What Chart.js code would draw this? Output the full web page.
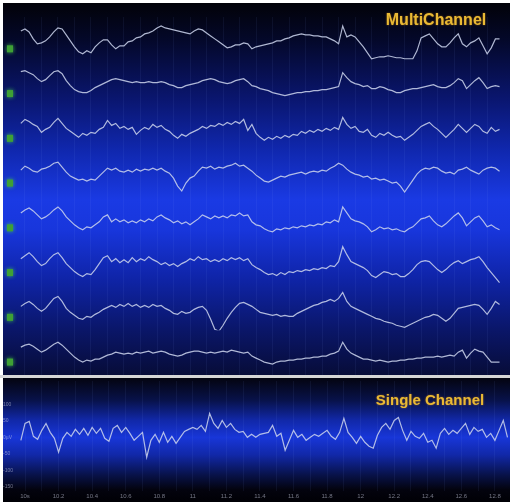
<!DOCTYPE html>
<html>
<head>
<meta charset="utf-8">
<script src="https://cdn.jsdelivr.net/npm/chart.js@4.4.1/dist/chart.umd.min.js"></script>
<style>
  html, body { margin: 0; padding: 0; background: #fff; }
  body { width: 510px; height: 502px; position: relative; overflow: hidden; }
  #multiBox { position: absolute; left: 3px; top: 3px; width: 507px; height: 372px; }
  #rule { position: absolute; left: 0; top: 375px; width: 510px; height: 3px; background: #d6d6d6; }
  #singleBox { position: absolute; left: 3px; top: 378px; width: 507px; height: 124px; }
</style>
</head>
<body>
<div id="multiBox"><canvas id="multi" width="507" height="372"></canvas></div>
<div id="rule"></div>
<div id="singleBox"><canvas id="single" width="507" height="124"></canvas></div>
<script>
// sampling of every trace, in seconds
var sampleStart = 9.975;
var sampleStep = 0.025;

// time axis: a grid line every 0.1 s, a label every 0.2 s
var gridTimes = [10.0,10.1,10.2,10.3,10.4,10.5,10.6,10.7,10.8,10.9,11.0,11.1,11.2,11.3,11.4,
                 11.5,11.6,11.7,11.8,11.9,12.0,12.1,12.2,12.3,12.4,12.5,12.6,12.7,12.8];
var timeLabels = ['10s','10.2','10.4','10.6','10.8','11','11.2','11.4','11.6','11.8','12','12.2','12.4','12.6','12.8'];

// single channel amplitude ticks (µV)
var ampTicks = [100, 50, 0, -50, -100, -150];
var ampLabels = ['100', '50', '0µV', '-50', '-100', '-150'];

// multichannel traces (µV)
var ch1 = [34,42,30,2,-18,-14,-6,10,30,46,42,18,-6,-30,-50,-58,-46,-54,-30,-14,-2,-2,-22,-38,-26,-26,-10,-6,6,10,
  22,26,34,46,54,46,42,38,34,30,26,22,34,42,38,26,14,2,-10,-22,-34,-30,-22,-22,-14,-18,-38,-30,-26,-22,
  -18,-14,-6,-6,2,6,14,18,22,18,18,14,14,10,10,2,-6,-18,54,10,18,10,-10,-30,-54,-78,-74,-70,-70,-66,
  -70,-74,-74,-78,-78,-78,-46,6,14,22,2,-18,-30,-30,-14,6,22,-18,-30,-14,-6,6,-26,-58,-34,2,2];
var ch2 = [50,54,46,38,22,10,18,34,50,54,42,14,-6,-22,-30,-34,-34,-26,-14,-6,2,10,18,22,18,14,10,6,10,6,
  6,10,6,6,10,6,-2,-6,-14,-14,-6,-2,2,6,14,18,22,18,10,6,2,6,14,18,22,10,-6,-10,-18,-22,
  -26,-34,-38,-42,-46,-42,-38,-34,-34,-30,-30,-26,-26,-22,-22,-18,-14,-10,46,26,10,2,-2,-10,-6,-18,-18,-10,-14,-22,
  -26,-34,-34,-26,-22,-18,-18,-14,-10,-6,-2,-10,-14,-14,-6,6,22,14,-18,-2,14,26,6,-18,-10,-6,-10];
var ch3 = [22,38,30,18,10,-14,-2,6,26,42,22,2,-10,-22,-34,-18,-26,-14,-18,-2,6,34,14,22,2,10,-2,6,-22,-6,
  6,-2,18,6,14,-2,-10,-26,-38,-22,-30,-18,-10,-2,10,2,14,10,22,14,26,18,30,22,38,-6,18,-18,-34,-46,
  -34,-42,-30,-38,-26,-34,-22,-26,-10,-18,-6,-14,-2,-10,2,-6,6,-2,46,18,2,10,-10,-14,-2,-26,-34,-18,-26,-14,
  -26,-34,-30,-46,-34,-22,-6,10,18,26,10,-2,-18,-34,-18,-2,18,2,-14,2,18,10,-10,-18,6,-10,-2];
var ch4 = [14,30,22,10,6,18,22,30,42,46,26,6,-10,-18,-26,-22,-30,-22,-26,-10,6,22,14,22,10,6,14,6,18,10,
  18,14,22,14,22,10,2,-18,-50,-70,-38,-18,-10,10,26,22,30,18,26,22,30,34,42,30,34,22,10,-6,-18,-30,
  -34,-26,-18,-10,-14,-6,-2,2,6,-2,6,10,6,14,10,22,30,42,34,18,6,-2,-6,-14,-10,-22,-18,-26,-22,-30,
  -38,-34,-50,-74,-50,-26,-2,14,22,18,26,22,10,2,6,-2,14,18,26,14,6,-2,14,22,26,22,10];
var ch5 = [22,34,42,30,14,-2,6,18,34,46,30,6,-10,-26,-38,-46,-34,-38,-26,-14,6,14,-14,-2,-14,-6,-18,-10,-18,-6,
  -14,-2,-10,6,14,2,-6,-18,-10,-22,-14,-26,-14,-2,14,6,-2,10,2,10,2,14,10,22,10,14,-14,-26,-30,-42,
  -50,-54,-42,-46,-38,-42,-34,-38,-30,-34,-26,-30,-22,-26,-14,-18,-6,-14,46,22,-2,-10,-14,-22,-34,-54,-46,-34,-42,-38,
  -46,-42,-50,-54,-42,-34,-18,-2,2,10,-10,-26,-34,-22,-6,10,22,2,-30,-14,2,10,-10,-34,-26,-38,-46];
var ch6 = [18,30,42,26,6,-10,-2,18,34,42,22,-2,-18,-34,-46,-54,-42,-46,-26,-2,22,30,6,18,2,14,2,22,6,18,
  10,26,14,6,-6,2,-10,-2,-14,-2,6,18,10,26,14,18,6,14,6,18,10,22,14,22,10,18,-6,-18,-26,-38,
  -46,-42,-50,-38,-46,-34,-38,-30,-34,-26,-30,-22,-26,-18,-22,-10,-14,6,66,34,6,-2,-10,-18,-30,-50,-58,-46,-34,-38,
  -46,-42,-54,-54,-42,-26,-6,6,10,6,-10,-26,-38,-26,-10,2,10,-2,6,14,18,26,6,-18,-38,-58,-78];
var ch7 = [6,18,26,14,-2,-14,-2,18,38,46,26,-2,-18,-30,-42,-46,-34,-38,-26,-18,-6,2,10,2,14,6,18,6,14,2,
  10,2,14,6,10,-2,-10,-22,-26,-14,-22,-18,-6,2,6,-10,-46,-86,-94,-70,-42,-18,2,18,22,14,6,-6,-18,-22,
  -26,-30,-26,-34,-30,-34,-34,-22,-14,-6,2,10,14,22,26,34,26,38,62,26,6,-2,-10,-18,-26,-34,-42,-46,-54,-58,
  -62,-70,-74,-78,-70,-62,-54,-46,-38,-34,-26,-30,-42,-54,-42,-22,-2,2,6,10,14,10,-6,-26,-2,26,14];
var ch8 = [22,30,34,26,14,2,10,22,34,42,30,14,-2,-18,-30,-38,-30,-34,-26,-26,-18,-10,-6,2,-2,-6,-2,-6,2,-2,
  2,6,-2,2,6,2,-6,-10,-14,-10,-2,2,6,6,2,-2,2,-2,2,6,2,10,6,2,-2,2,-14,-22,-30,-38,
  -42,-46,-38,-34,-34,-30,-30,-26,-26,-22,-22,-18,-18,-14,-14,-6,-2,6,42,14,-2,-10,-18,-26,-26,-30,-34,-30,-34,-38,
  -34,-34,-30,-30,-26,-26,-22,-22,-18,-18,-18,-14,-18,-14,-10,-14,2,10,-22,-2,14,6,2,-18,-38,-38,-38];

// single channel trace (µV)
var single = [-9,42,48,3,-6,21,42,15,-3,-45,-3,15,3,24,9,27,6,30,12,27,-3,-12,27,36,15,30,12,-9,3,15,
  -60,-9,9,-15,15,-15,3,-18,0,18,24,30,24,36,18,72,42,27,51,30,42,24,15,18,0,9,0,9,12,15,
  36,3,12,-39,-9,21,0,9,-9,0,9,3,12,21,3,-6,15,57,15,0,-18,3,-15,-27,-33,6,30,42,24,51,
  60,21,-9,18,3,-3,12,-15,-9,-33,12,27,9,21,12,27,42,9,30,18,24,0,12,-9,21,51,0];

var channels = [ch1, ch2, ch3, ch4, ch5, ch6, ch7, ch8];

var traceColor = 'rgba(204,212,236,0.86)';
var gridColor = 'rgba(140,170,255,0.07)';
var titleColor = '#e9b935';

function toPoints(values) {
  return values.map(function (v, i) {
    return { x: sampleStart + i * sampleStep, y: v };
  });
}

function gridTicks(scale) {
  scale.ticks = gridTimes.map(function (t) { return { value: t }; });
}

function paintBackground(chart, stops) {
  var ctx = chart.ctx;
  var g = ctx.createLinearGradient(0, 0, 0, chart.height);
  stops.forEach(function (s) { g.addColorStop(s[0], s[1]); });
  ctx.save();
  ctx.fillStyle = g;
  ctx.fillRect(0, 0, chart.width, chart.height);
  ctx.restore();
}

function paintTitle(chart, text, x, y, size) {
  var ctx = chart.ctx;
  ctx.save();
  ctx.font = 'bold ' + size + 'px "Liberation Sans", Arial, sans-serif';
  ctx.fillStyle = titleColor;
  ctx.textAlign = 'center';
  ctx.textBaseline = 'middle';
  ctx.shadowColor = 'rgba(255,160,0,0.5)';
  ctx.shadowBlur = 2;
  ctx.fillText(text, x, y);
  ctx.restore();
}

// ---------- multichannel ----------
var multiScales = {
  x: {
    type: 'linear', min: 9.97, max: 12.89,
    afterBuildTicks: gridTicks,
    ticks: { display: false },
    grid: { color: gridColor, drawTicks: false },
    border: { display: false }
  }
};
channels.forEach(function (c, i) {
  multiScales['y' + i] = {
    type: 'linear', position: 'right', stack: 'eeg', stackWeight: 1,
    min: -90, max: 90,
    ticks: { display: false },
    grid: { display: false },
    border: { display: false }
  };
});

var multiDecor = {
  id: 'multiDecor',
  beforeDraw: function (chart) {
    paintBackground(chart, [
      [0, '#020208'], [0.10, '#04082a'], [0.26, '#0a1670'], [0.40, '#1028b0'],
      [0.53, '#1a3ae4'], [0.61, '#1836dc'], [0.74, '#0f24a8'], [0.88, '#0a1668'], [1, '#070c38']
    ]);
  },
  afterDraw: function (chart) {
    var ctx = chart.ctx;
    channels.forEach(function (c, i) {
      var y = chart.scales['y' + i].getPixelForValue(-36);
      ctx.save();
      ctx.shadowColor = 'rgba(70,210,70,0.9)';
      ctx.shadowBlur = 4;
      ctx.fillStyle = '#3fa035';
      ctx.fillRect(4, y - 3, 6, 7);
      ctx.restore();
    });
    paintTitle(chart, 'MultiChannel', 433, 18, 16);
  }
};

new Chart(document.getElementById('multi'), {
  type: 'line',
  data: {
    datasets: channels.map(function (c, i) {
      return {
        label: 'Ch ' + (i + 1),
        data: toPoints(c),
        yAxisID: 'y' + i,
        borderColor: traceColor,
        borderWidth: 1.2,
        pointRadius: 0,
        tension: 0
      };
    })
  },
  options: {
    responsive: false,
    animation: false,
    layout: { padding: { left: 17, top: 14, right: 0, bottom: 0 } },
    plugins: { legend: { display: false }, tooltip: { enabled: false } },
    scales: multiScales
  },
  plugins: [multiDecor]
});

// ---------- single channel ----------
var singleDecor = {
  id: 'singleDecor',
  beforeDraw: function (chart) {
    paintBackground(chart, [
      [0, '#040410'], [0.18, '#08124a'], [0.34, '#1128a8'], [0.48, '#1836d8'],
      [0.62, '#1128a8'], [0.78, '#08124a'], [0.90, '#03030e'], [1, '#000005']
    ]);
  },
  afterDraw: function (chart) {
    paintTitle(chart, 'Single Channel', 427, 23, 15);
  }
};

new Chart(document.getElementById('single'), {
  type: 'line',
  data: {
    datasets: [{
      label: 'Single',
      data: toPoints(single),
      borderColor: traceColor,
      borderWidth: 1.2,
      pointRadius: 0,
      tension: 0
    }]
  },
  options: {
    responsive: false,
    animation: false,
    layout: { padding: { left: 0, top: 2, right: 0, bottom: 0 } },
    plugins: { legend: { display: false }, tooltip: { enabled: false } },
    scales: {
      x: {
        type: 'linear', min: 9.97, max: 12.89,
        afterBuildTicks: gridTicks,
        afterFit: function (s) { s.height = 11; },
        ticks: {
          autoSkip: false, maxRotation: 0, padding: 2,
          font: { size: 6, family: '"Liberation Sans", Arial, sans-serif' },
          color: 'rgba(205,210,230,0.55)',
          callback: function (v, i) { return i % 2 ? '' : timeLabels[i / 2]; }
        },
        grid: { color: gridColor, drawTicks: false },
        border: { display: false }
      },
      y: {
        type: 'linear', min: -162, max: 170,
        afterBuildTicks: function (s) { s.ticks = ampTicks.map(function (v) { return { value: v }; }); },
        afterFit: function (s) { s.width = 17; },
        ticks: {
          crossAlign: 'far', padding: 0,
          font: { size: 5, family: '"Liberation Sans", Arial, sans-serif' },
          color: 'rgba(205,210,230,0.55)',
          callback: function (v, i) { return ampLabels[i]; }
        },
        grid: { display: false },
        border: { display: false }
      }
    }
  },
  plugins: [singleDecor]
});
</script>
</body>
</html>
